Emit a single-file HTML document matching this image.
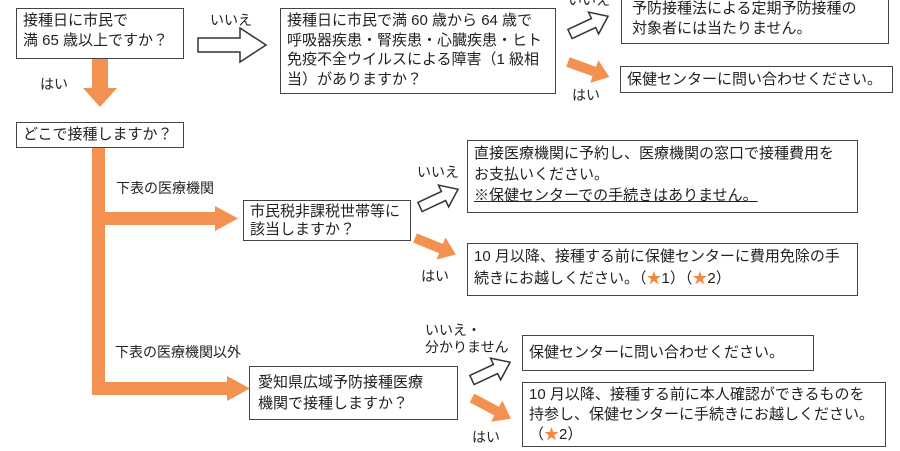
<!DOCTYPE html>
<html><head><meta charset="utf-8">
<style>
html,body{margin:0;padding:0;background:#fff;}
body{width:900px;height:451px;position:relative;overflow:hidden;font-family:"Liberation Sans","Noto Sans CJK JP",sans-serif;color:#222;font-size:15px;}
.b{position:absolute;border:1.5px solid #444;box-sizing:border-box;background:#fff;padding:2px 6px;line-height:20px;white-space:nowrap;}
.t{position:absolute;white-space:nowrap;line-height:17px;font-size:14px;}
.s{color:#f0893f;}
svg{position:absolute;left:0;top:0;}
</style></head><body>
<svg width="900" height="451">
<g fill="#f39150">
<polygon points="92,58 108,58 108,88 117,88 100,107 83,88 92,88"/>
<rect x="92" y="147" width="13" height="248"/>
<rect x="92" y="212" width="125" height="13"/>
<polygon points="215,206 238,218.5 215,231"/>
<rect x="92" y="382" width="137" height="13"/>
<polygon points="227,376 250,388.5 227,401"/>
</g>
<g fill="#f39150">
<polygon points="0,-5 28,-5 28,-12 44,0 28,12 28,5 0,5" transform="translate(568,62) rotate(20)"/>
<polygon points="0,-5 28,-5 28,-12 44,0 28,12 28,5 0,5" transform="translate(415,238) rotate(22)"/>
<polygon points="0,-5 28,-5 28,-12 44,0 28,12 28,5 0,5" transform="translate(472,398) rotate(28)"/>
</g>
<g fill="#fff" stroke="#333" stroke-width="1.5">
<polygon points="198,38 240,38 240,28 266,45 240,62 240,52 198,52"/>
<polygon points="0,-5 26,-5 26,-12 42,0 26,12 26,5 0,5" transform="translate(570,34) rotate(-25)"/>
<polygon points="0,-5 26,-5 26,-12 42,0 26,12 26,5 0,5" transform="translate(420,207) rotate(-25)"/>
<polygon points="0,-5 26,-5 26,-12 42,0 26,12 26,5 0,5" transform="translate(472,380) rotate(-25)"/>
</g>
</svg>

<div class="b" style="left:16px;top:8px;width:168px;height:51px;">接種日に市民で<br>満 65 歳以上ですか？</div>
<div class="b" style="left:280px;top:8px;width:276px;height:86px;line-height:19.5px;">接種日に市民で満 60 歳から 64 歳で<br>呼吸器疾患・腎疾患・心臓疾患・ヒト<br>免疫不全ウイルスによる障害（1 級相<br>当）がありますか？</div>
<div class="b" style="left:621px;top:-4px;width:268px;height:48px;padding-left:10px;">予防接種法による定期予防接種の<br>対象者には当たりません。</div>
<div class="b" style="left:620px;top:66px;width:273px;height:27px;line-height:21px;">保健センターに問い合わせください。</div>
<div class="b" style="left:16px;top:122px;width:168px;height:26px;line-height:20px;">どこで接種しますか？</div>
<div class="b" style="left:243px;top:200px;width:168px;height:41px;line-height:18px;">市民税非課税世帯等に<br>該当しますか？</div>
<div class="b" style="left:467px;top:140px;width:391px;height:73px;line-height:21px;">直接医療機関に予約し、医療機関の窓口で接種費用を<br>お支払いください。<br><u>※保健センターでの手続きはありません。</u></div>
<div class="b" style="left:467px;top:243px;width:391px;height:53px;line-height:22px;">10 月以降、接種する前に保健センターに費用免除の手<br>続きにお越しください。（<span class="s">★</span>1）（<span class="s">★</span>2）</div>
<div class="b" style="left:249px;top:366px;width:209px;height:54px;line-height:21px;padding-top:5px;padding-left:8px;">愛知県広域予防接種医療<br>機関で接種しますか？</div>
<div class="b" style="left:522px;top:335px;width:292px;height:36px;line-height:30px;">保健センターに問い合わせください。</div>
<div class="b" style="left:522px;top:382px;width:364px;height:65px;line-height:20px;">10 月以降、接種する前に本人確認ができるものを<br>持参し、保健センターに手続きにお越しください。<br>（<span class="s">★</span>2）</div>

<div class="t" style="left:210px;top:12px;">いいえ</div>
<div class="t" style="left:40px;top:76px;">はい</div>
<div class="t" style="left:568px;top:-8px;">いいえ</div>
<div class="t" style="left:572px;top:87px;">はい</div>
<div class="t" style="left:116px;top:180px;">下表の医療機関</div>
<div class="t" style="left:417px;top:164px;">いいえ</div>
<div class="t" style="left:421px;top:268px;">はい</div>
<div class="t" style="left:115px;top:344px;">下表の医療機関以外</div>
<div class="t" style="left:425px;top:322px;">いいえ・<br>分かりません</div>
<div class="t" style="left:472px;top:429px;">はい</div>
</body></html>
